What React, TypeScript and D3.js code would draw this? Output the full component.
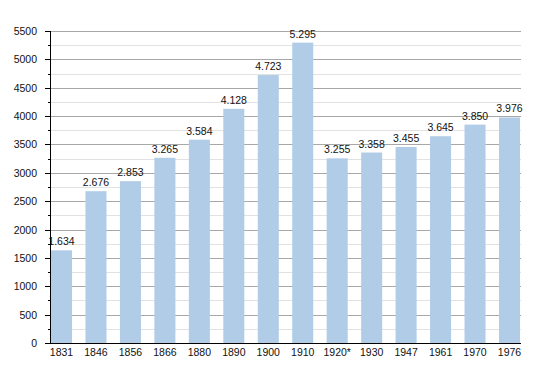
import { useEffect, useRef } from "react";
import * as d3 from "d3";

const years = ["1831", "1846", "1856", "1866", "1880", "1890", "1900", "1910", "1920*", "1930", "1947", "1961", "1970", "1976"];
const population = [1634, 2676, 2853, 3265, 3584, 4128, 4723, 5295, 3255, 3358, 3455, 3645, 3850, 3976];
const majorTicks = d3.range(0, 5501, 500);
const minorTicks = d3.range(250, 5500, 500);

function App() {
  const ref = useRef<SVGSVGElement>(null);
  const width = 550;
  const height = 373;

  useEffect(() => {
    const svg = d3.select(ref.current);
    svg.selectAll("*").remove();

    const left = 50;
    const right = 521;

    const x = d3.scaleBand().domain(years).range([51, 520]).paddingInner(0.39).paddingOuter(0).align(0);
    const y = d3.scaleLinear().domain([0, 5500]).range([343, 31]);

    // gridlines
    svg
      .selectAll("line.minor")
      .data(minorTicks)
      .enter()
      .append("line")
      .attr("x1", left)
      .attr("x2", right)
      .attr("y1", (d) => Math.round(y(d)) + 0.5)
      .attr("y2", (d) => Math.round(y(d)) + 0.5)
      .attr("stroke", "#e2e2e2");
    svg
      .selectAll("line.major")
      .data(majorTicks.slice(1))
      .enter()
      .append("line")
      .attr("x1", left)
      .attr("x2", right)
      .attr("y1", (d) => Math.round(y(d)) + 0.5)
      .attr("y2", (d) => Math.round(y(d)) + 0.5)
      .attr("stroke", "#a8a8a8");

    // bars
    svg
      .selectAll("rect")
      .data(population)
      .enter()
      .append("rect")
      .attr("x", (_, i) => x(years[i]) as number)
      .attr("y", (d) => y(d))
      .attr("width", x.bandwidth())
      .attr("height", (d) => y(0) - y(d))
      .attr("fill", "#b1cce7");

    // value labels
    svg
      .selectAll("text.val")
      .data(population)
      .enter()
      .append("text")
      .attr("x", (_, i) => (x(years[i]) as number) + x.bandwidth() / 2)
      .attr("y", (d) => y(d) - 5)
      .attr("text-anchor", "middle")
      .attr("font-family", "'Liberation Sans', Arial, sans-serif")
      .attr("font-size", 10.5)
      .attr("fill", "#111")
      .text((d) => d3.format(",")(d).replace(",", "."));

    // y axis
    svg
      .append("line")
      .attr("x1", left + 0.5)
      .attr("x2", left + 0.5)
      .attr("y1", y(5500))
      .attr("y2", y(0))
      .attr("stroke", "#000");
    svg
      .selectAll("line.ytick")
      .data(majorTicks)
      .enter()
      .append("line")
      .attr("x1", left - 5)
      .attr("x2", left)
      .attr("y1", (d) => Math.round(y(d)) + 0.5)
      .attr("y2", (d) => Math.round(y(d)) + 0.5)
      .attr("stroke", "#000");
    svg
      .selectAll("line.ymtick")
      .data(minorTicks)
      .enter()
      .append("line")
      .attr("x1", left - 2)
      .attr("x2", left)
      .attr("y1", (d) => Math.round(y(d)) + 0.5)
      .attr("y2", (d) => Math.round(y(d)) + 0.5)
      .attr("stroke", "#000");
    svg
      .selectAll("text.ylab")
      .data(majorTicks)
      .enter()
      .append("text")
      .attr("x", 37)
      .attr("y", (d) => y(d) + 4)
      .attr("text-anchor", "end")
      .attr("font-family", "'Liberation Sans', Arial, sans-serif")
      .attr("font-size", 10.5)
      .attr("fill", "#111")
      .text((d) => d);

    // x axis
    svg
      .append("line")
      .attr("x1", left)
      .attr("x2", right)
      .attr("y1", 343.5)
      .attr("y2", 343.5)
      .attr("stroke", "#000");
    svg
      .selectAll("text.xlab")
      .data(years)
      .enter()
      .append("text")
      .attr("x", (d) => (x(d) as number) + x.bandwidth() / 2)
      .attr("y", 356)
      .attr("text-anchor", "middle")
      .attr("font-family", "'Liberation Sans', Arial, sans-serif")
      .attr("font-size", 10.5)
      .attr("fill", "#111")
      .text((d) => d);
  }, []);

  return (
    <svg
      ref={ref}
      width={width}
      height={height}
      style={{ position: "absolute", left: 0, top: 0, background: "#fff" }}
    />
  );
}

export default App;
